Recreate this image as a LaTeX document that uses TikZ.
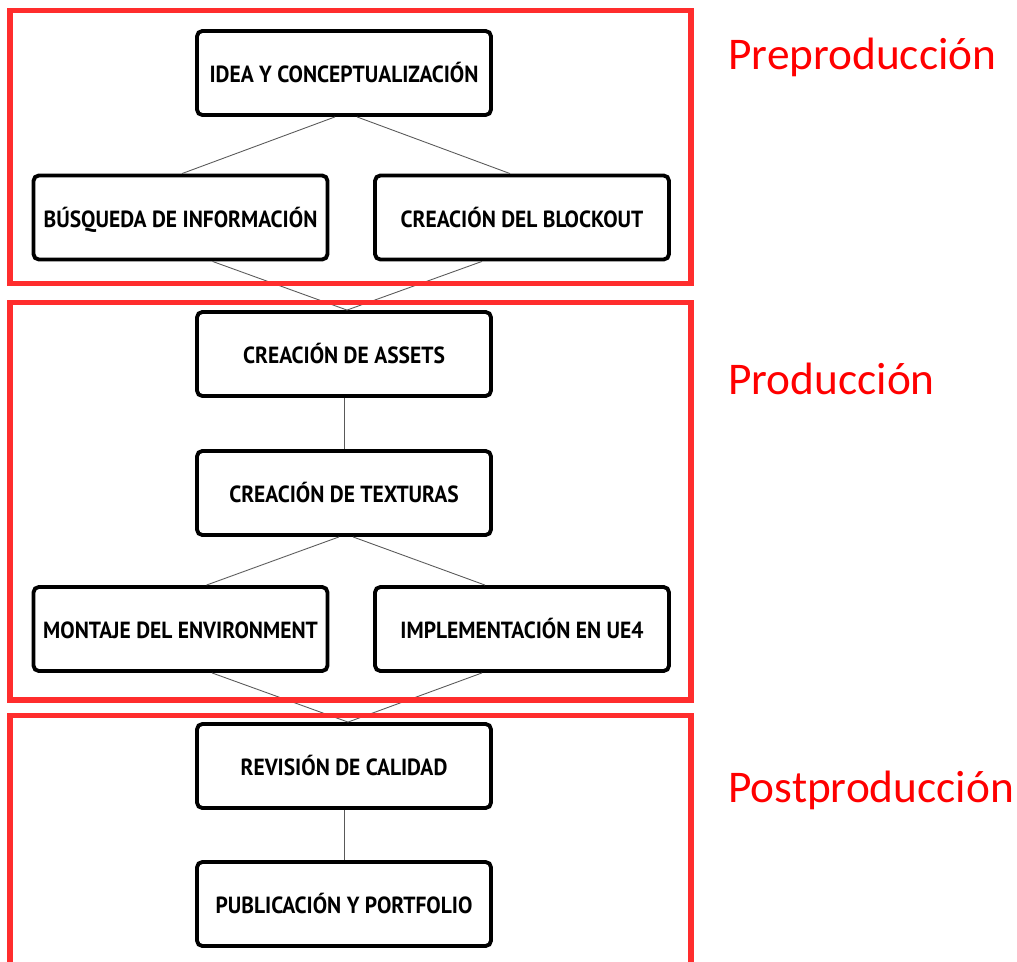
\documentclass[tikz,border=0pt]{standalone}
\usepackage{fontspec}
\setmainfont{Carlito}
\newfontfamily\stepfont{PT Sans}[FakeStretch=0.92]
\usetikzlibrary{calc,positioning}
\definecolor{phasered}{RGB}{255,45,45}
\definecolor{labelred}{RGB}{255,0,0}

\begin{document}
\begin{tikzpicture}[x=0.02cm, y=-0.02cm,
        task/.style={draw, line width=2.2pt, rounded corners=3pt, minimum width=5.88cm, minimum height=1.68cm,
            align=center, inner sep=0pt, text height=11.2pt, text depth=0pt,
            font=\stepfont\bfseries\fontsize{13.3}{15}\selectfont},
        link/.style={draw=black!65, line width=0.5pt},
        phase/.style={draw=phasered, line width=2.9pt},
        phaselabel/.style={anchor=base west, inner sep=0pt, text=labelred, font=\fontsize{25.8}{30}\selectfont}]
        \useasboundingbox (0,0) rectangle (1017,962);
        \clip (0,0) rectangle (1017,962);

        % tasks
        \node[task] (idea) at (344,73) {IDEA Y CONCEPTUALIZACIÓN};
        \node[task] (busqueda) at (180.5,217.5) {BÚSQUEDA DE INFORMACIÓN};
        \node[task] (blockout) at (522,217.5) {CREACIÓN DEL BLOCKOUT};
        \node[task] (assets) at (344,354) {CREACIÓN DE ASSETS};
        \node[task] (texturas) at (344,493) {CREACIÓN DE TEXTURAS};
        \node[task] (montaje) at (180.5,629) {MONTAJE DEL ENVIRONMENT};
        \node[task] (implementacion) at (522,629) {IMPLEMENTACIÓN EN UE4};
        \node[task] (revision) at (344,766) {REVISIÓN DE CALIDAD};
        \node[task] (publicacion) at (344,904) {PUBLICACIÓN Y PORTFOLIO};

        % links
        \draw[link] ($(idea.south)+(-9,0)$) -- ($(busqueda.north)+(1.5,0)$);
        \draw[link] ($(idea.south)+(13,0)$) -- ($(blockout.north)+(-12,0)$);
        \draw[link] ($(busqueda.south)+(32,0)$) -- ($(assets.north)+(3,0)$);
        \draw[link] ($(blockout.south)+(-40,0)$) -- ($(assets.north)+(3,0)$);
        \draw[link] (assets) -- (texturas);
        \draw[link] ($(texturas.south)+(-5,0)$) -- ($(montaje.north)+(26,0)$);
        \draw[link] ($(texturas.south)+(9,0)$) -- ($(implementacion.north)+(-37,0)$);
        \draw[link] ($(montaje.south)+(31.5,0)$) -- ($(revision.north)+(4,0)$);
        \draw[link] ($(implementacion.south)+(-40,0)$) -- ($(revision.north)+(4,0)$);
        \draw[link] (revision) -- (publicacion);

        % phases
        \draw[phase] (10,10.5) rectangle (691,283.5);
        \draw[phase] (10,302.5) rectangle (691,700);
        \draw[phase] (10,715.5) rectangle (691,990);
        \node[phaselabel] (pre) at (728,70) {Preproducción};
        \node[phaselabel] (pro) at (728,395) {Producción};
        \node[phaselabel] (post) at (728,802) {Postproducción};
    \end{tikzpicture}
\end{document}
